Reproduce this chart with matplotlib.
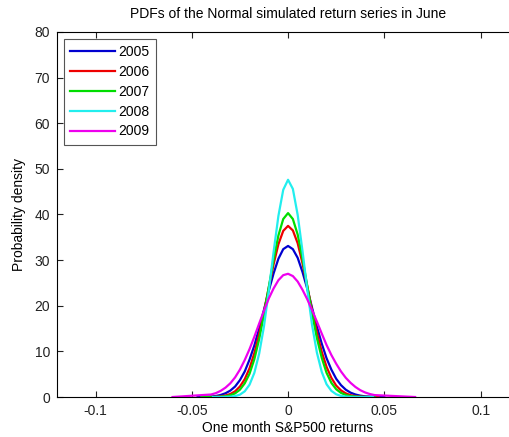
import matplotlib
matplotlib.use('Agg')
import matplotlib.pyplot as plt
import numpy as np

plt.rcParams['font.family'] = ['Liberation Sans', 'DejaVu Sans']

# return grid (shared central part)
x_mid = [-0.04, -0.0375, -0.035, -0.0325, -0.03, -0.0275, -0.025, -0.0225, -0.02,
         -0.0175, -0.015, -0.0125, -0.01, -0.0075, -0.005, -0.0025, 0.0,
         0.0025, 0.005, 0.0075, 0.01, 0.0125, 0.015, 0.0175, 0.02, 0.0225,
         0.025, 0.0275, 0.03, 0.0325, 0.035, 0.0375, 0.04, 0.0425, 0.045]

years = ['2005', '2006', '2007', '2008', '2009']
colors = ['#0000d0', '#ee0000', '#00dd00', '#22eeee', '#ee00ee']

# flat tails: where each curve starts / ends
x_start = [-0.047, -0.043, -0.045, -0.039, -0.06]
x_end = [0.05, 0.047, 0.045, 0.044, 0.066]

pdf_2005 = [0.10, 0.22, 0.45, 0.82, 1.4, 2.3, 3.7, 5.6, 8.2, 11.3, 15.0, 19.1, 23.3,
            27.1, 30.3, 32.4, 33.1, 32.4, 30.5, 27.4, 23.7, 19.5, 15.4, 11.7, 8.5,
            6.0, 4.0, 2.6, 1.6, 0.95, 0.55, 0.30, 0.15, 0.07, 0.03]
pdf_2006 = [0.02, 0.06, 0.15, 0.32, 0.66, 1.25, 2.3, 3.9, 6.3, 9.6, 13.8, 18.7, 24.0,
            29.1, 33.5, 36.4, 37.5, 36.5, 33.7, 29.3, 24.2, 19.0, 14.1, 9.9, 6.6,
            4.2, 2.5, 1.45, 0.80, 0.40, 0.20, 0.09, 0.04, 0.01, 0.0]
pdf_2007 = [0.01, 0.02, 0.06, 0.16, 0.38, 0.80, 1.6, 3.0, 5.1, 8.3, 12.7, 18.1, 24.1,
            30.1, 35.4, 39.0, 40.3, 39.0, 35.6, 30.3, 24.3, 18.3, 12.9, 8.6, 5.3,
            3.1, 1.7, 0.90, 0.45, 0.20, 0.09, 0.04, 0.01, 0.0, 0.0]
pdf_2008 = [0.0, 0.0, 0.01, 0.03, 0.07, 0.20, 0.52, 1.25, 2.7, 5.3, 9.5, 15.5, 23.3,
            31.8, 39.7, 45.4, 47.6, 45.6, 39.9, 32.0, 23.5, 15.7, 9.7, 5.5, 2.8,
            1.35, 0.60, 0.24, 0.09, 0.03, 0.01, 0.0, 0.0, 0.0, 0.0]
pdf_2009 = [0.55, 0.85, 1.35, 2.05, 3.0, 4.3, 6.0, 8.1, 10.5, 13.2, 16.1, 18.9, 21.6,
            23.8, 25.6, 26.7, 27.0, 26.5, 25.3, 23.5, 21.4, 19.0, 16.5, 13.9, 11.4,
            9.2, 7.3, 5.6, 4.2, 3.1, 2.2, 1.5, 1.0, 0.65, 0.42]
pdfs = [pdf_2005, pdf_2006, pdf_2007, pdf_2008, pdf_2009]

fig = plt.figure(figsize=(5.10, 4.37), dpi=100)
ax = fig.add_axes([0.1118, 0.0915, 0.906, 0.8355])

for yr, col, xs, xe, pdf in zip(years, colors, x_start, x_end, pdfs):
    xx = np.array(x_mid)
    yy = np.array(pdf)
    keep = (xx > xs) & (xx < xe)
    xx = np.concatenate([[xs], xx[keep], [xe]])
    yy = np.concatenate([[0.0], yy[keep], [0.0]])
    ax.plot(xx, yy, color=col, lw=1.6, label=yr)

ax.set_xlim(-0.12, 0.12)
ax.set_ylim(0, 80)
ax.set_xticks([-0.1, -0.05, 0, 0.05, 0.1])
ax.set_xticklabels(['-0.1', '-0.05', '0', '0.05', '0.1'])
ax.set_yticks(range(0, 81, 10))
ax.tick_params(direction='in', top=True, right=True, length=4, width=0.8,
               labelsize=10, colors='#222222', pad=5)
for s in ax.spines.values():
    s.set_linewidth(0.8)

ax.set_title('PDFs of the Normal simulated return series in June', fontsize=10, pad=10)
ax.set_xlabel('One month S&P500 returns', fontsize=10, labelpad=2)
ax.set_ylabel('Probability density', fontsize=10, labelpad=6)

leg = ax.legend(loc='upper left', fontsize=10, fancybox=False, framealpha=1,
                edgecolor='#555555', handlelength=3.2, borderaxespad=0.5,
                labelspacing=0.42, handletextpad=0.25, borderpad=0.45)
leg.get_frame().set_linewidth(0.8)

fig.savefig('out.png', dpi=100)
